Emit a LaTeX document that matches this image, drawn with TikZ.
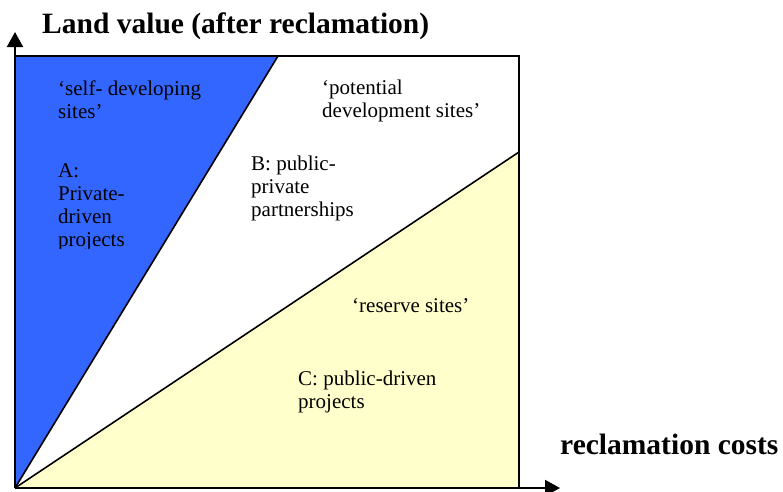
\documentclass[tikz,border=0pt]{standalone}
\usepackage{fontspec}
\setmainfont{Liberation Serif}
\usepackage{tikz}
\usetikzlibrary{arrows.meta}
\definecolor{siteblue}{HTML}{3366FF}
\definecolor{siteyellow}{HTML}{FFFFCC}
\tikzset{>={Triangle[width=16pt,length=15pt]}}
\newcommand{\rows}[1]{\begin{tabular}[t]{@{}l@{}}#1\end{tabular}}

\begin{document}
\begin{tikzpicture}[x=1pt,y=-1pt,
  lbl/.style={anchor=base west,inner sep=0pt,font=\fontsize{21}{23}\selectfont},
  axislbl/.style={anchor=base west,inner sep=0pt,font=\fontsize{29.5}{33}\selectfont\bfseries}]

  \useasboundingbox (0,0) rectangle (783,491);

  \coordinate (O) at (15,488);
  \coordinate (TL) at (15,56);
  \coordinate (TR) at (519,56);
  \coordinate (BR) at (519,488);
  \coordinate (P) at (278,56);
  \coordinate (Q) at (519,152);
  \coordinate (ytip) at (15,32);
  \coordinate (xtip) at (560,488);


  \fill [siteblue] (O) -- (TL) -- (P) -- cycle;
  \fill [siteyellow] (O) -- (Q) -- (BR) -- cycle;

  \draw [line width=1.5pt] (TL) -- (TR) -- (BR);
  \draw [line width=1.6pt] (O) -- (P);
  \draw [line width=1.6pt] (O) -- (Q);

  \draw [line width=2pt,->] (O) -- (ytip);
  \draw [line width=2pt,->] (O) -- (xtip);


  \node (yl) [axislbl] at (42,33) {Land value (after reclamation)};
  \node (xl) [axislbl] at (560,454) {reclamation costs};

  \node (self) [lbl] at (58,95) {\rows{‘self- developing\\sites’}};
  \begin{scope}
    \clip (0,0) rectangle (300,248);
    \node (A) [lbl] at (58,177) {\rows{A:\\Private-\\driven\\projects}};
  \end{scope}

  \node (pot) [lbl] at (322,94) {\rows{‘potential\\development sites’}};
  \node (B) [lbl] at (251,170) {\rows{B: public-\\private\\partnerships}};

  \node (res) [lbl] at (352,312) {‘reserve sites’};
  \node (C) [lbl] at (298,385) {\rows{C: public-driven\\projects}};

\end{tikzpicture}
\end{document}
